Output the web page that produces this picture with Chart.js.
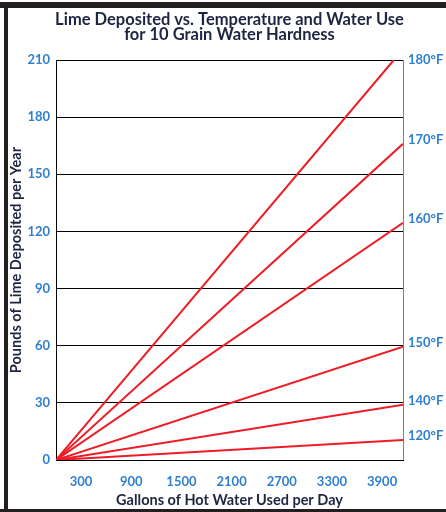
<!DOCTYPE html>
<html>
<head>
<meta charset="utf-8">
<script src="https://cdn.jsdelivr.net/npm/chart.js@4.4.1/dist/chart.umd.min.js"></script>
<style>
  html, body { margin: 0; padding: 0; background: #fff; overflow: hidden; }
  #wrap { position: relative; width: 446px; height: 512px; overflow: hidden; }
  canvas { display: block; }
</style>
</head>
<body>
<div id="wrap"><canvas id="limeChart" width="446" height="512"></canvas></div>
<script>
// Data
const temps = ["180°F", "170°F", "160°F", "150°F", "140°F", "120°F"];
const endGallons = [4040, 4150, 4150, 4150, 4150, 4150];
const endLime = [210, 166, 124.5, 59.5, 29, 10.5];
const xTicks = [300, 900, 1500, 2100, 2700, 3300, 3900];
const yTicks = [0, 30, 60, 90, 120, 150, 180, 210];

const navy = "#1d2540";
const blue = "#2f7fd0";
const red = "#ee1c25";
const font = "Lato";

// title, right-hand labels, frame
const decorPlugin = {
  id: "decor",
  beforeDraw(chart) {
    const ctx = chart.ctx;
    ctx.save();
    ctx.fillStyle = "#fff";
    ctx.fillRect(0, 0, chart.width, chart.height);
    ctx.fillStyle = "#231f20";
    ctx.fillRect(0, 2, chart.width, 6);
    ctx.fillRect(4, 2, 4, chart.height);
    ctx.fillRect(0, chart.height - 3, chart.width, 3);
    ctx.restore();
  },
  afterDraw(chart) {
    const ctx = chart.ctx;
    const area = chart.chartArea;
    const yScale = chart.scales.y;
    ctx.save();
    // right border
    ctx.strokeStyle = "#808080";
    ctx.lineWidth = 1;
    ctx.beginPath();
    ctx.moveTo(area.right + 0.5, area.top);
    ctx.lineTo(area.right + 0.5, area.bottom);
    ctx.stroke();

    // title
    ctx.fillStyle = navy;
    ctx.font = "bold 16.5px " + font;
    ctx.textAlign = "center";
    ctx.textBaseline = "middle";
    const cx = (area.left + area.right) / 2;
    ctx.fillText("Lime Deposited vs. Temperature and Water Use", cx, 20);
    ctx.fillText("for 10 Grain Water Hardness", cx, 35);

    // temperature labels
    ctx.fillStyle = blue;
    ctx.font = "bold 13px " + font;
    ctx.textAlign = "left";
    temps.forEach((t, i) => {
      const yy = Math.max(yScale.getPixelForValue(endLime[i]) - 4, area.top);
      ctx.fillText(t, area.right + 5, yy);
    });
    ctx.restore();
  }
};

const datasets = temps.map((t, i) => ({
  label: t,
  data: [{ x: 0, y: 0 }, { x: endGallons[i], y: endLime[i] }],
  borderColor: red,
  borderWidth: 2,
  pointRadius: 0,
  fill: false,
  tension: 0
}));

new Chart(document.getElementById("limeChart"), {
  type: "line",
  data: { datasets: datasets },
  options: {
    responsive: false,
    animation: false,
    layout: { padding: { left: 8, right: 43, top: 60, bottom: 3 } },
    plugins: {
      legend: { display: false },
      tooltip: { enabled: false },
      title: { display: false }
    },
    scales: {
      x: {
        type: "linear",
        min: 0,
        max: 4150,
        afterBuildTicks: function (scale) {
          scale.ticks = xTicks.map((v) => ({ value: v }));
        },
        afterFit: function (scale) {
          scale.height = 49;
        },
        grid: { display: false, drawTicks: false },
        border: { display: true, color: "#000", width: 1 },
        ticks: {
          color: blue,
          font: { family: font, weight: "bold", size: 13 },
          padding: 14,
          maxRotation: 0,
          callback: function (value) {
            return String(value);
          }
        },
        title: {
          display: true,
          text: "Gallons of Hot Water Used per Day",
          color: navy,
          font: { family: font, weight: "bold", size: 14.5 },
          padding: { top: 8, bottom: 0 }
        }
      },
      y: {
        min: 0,
        max: 210,
        afterBuildTicks: function (scale) {
          scale.ticks = yTicks.map((v) => ({ value: v }));
        },
        afterFit: function (scale) {
          scale.width = 48;
        },
        grid: { color: "#000", lineWidth: 1, drawTicks: false },
        border: { display: true, color: "#000", width: 1 },
        ticks: {
          color: blue,
          font: { family: font, weight: "bold", size: 13 },
          padding: 6
        },
        title: {
          display: true,
          text: "Pounds of Lime Deposited per Year",
          color: navy,
          font: { family: font, weight: "bold", size: 14.5 },
          padding: { top: 0, bottom: 0 }
        }
      }
    }
  },
  plugins: [decorPlugin]
});
</script>
</body>
</html>
